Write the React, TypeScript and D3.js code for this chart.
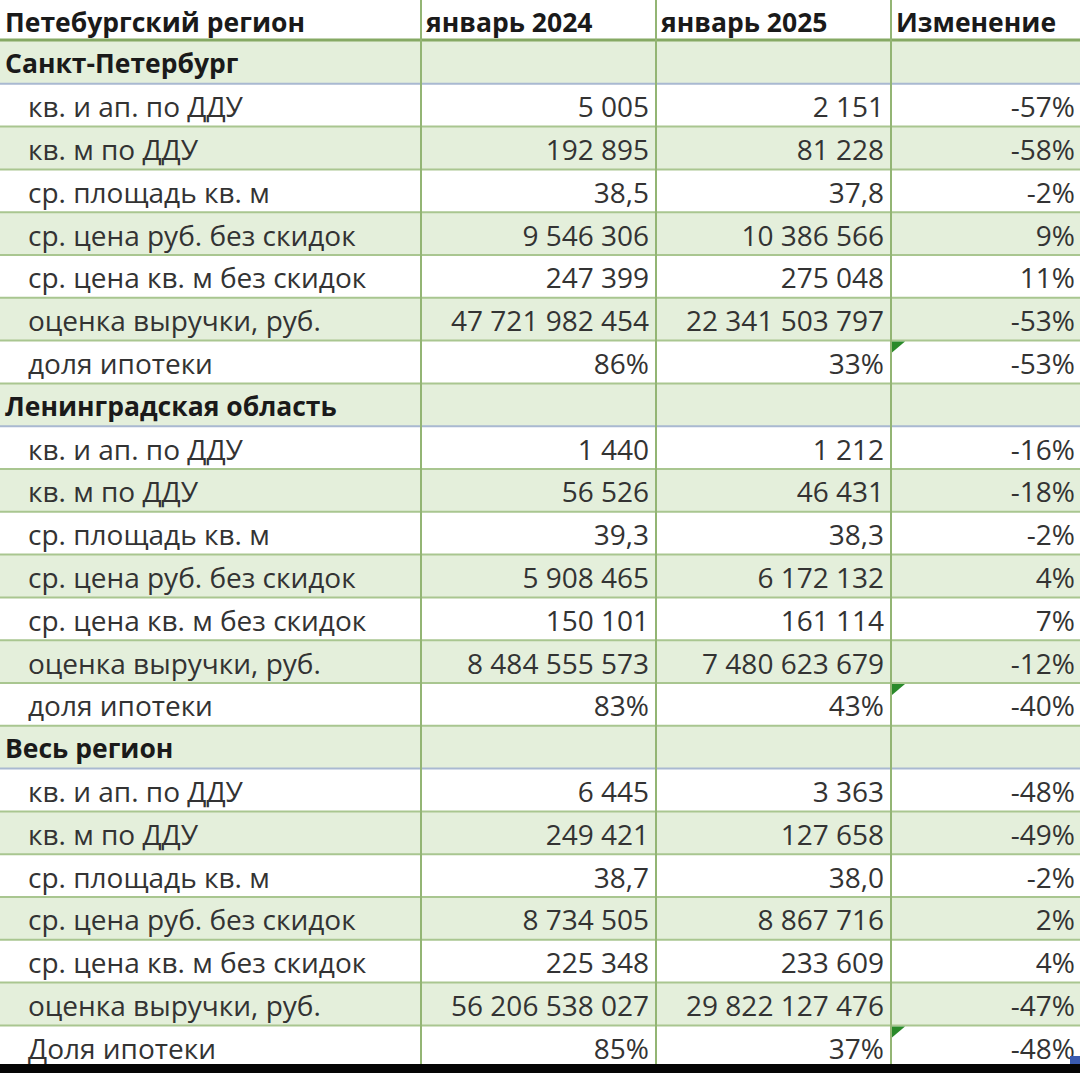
import React from "react";
import * as d3 from "d3";

const headers = ["Петебургский регион", "январь 2024", "январь 2025", "Изменение"];
const regions = ["Санкт-Петербург", "Ленинградская область", "Весь регион"];
const metrics = [
  "кв. и ап. по ДДУ",
  "кв. м по ДДУ",
  "ср. площадь кв. м",
  "ср. цена руб. без скидок",
  "ср. цена кв. м без скидок",
  "оценка выручки, руб.",
  "доля ипотеки",
];
const lastRegionMetrics = [
  "кв. и ап. по ДДУ",
  "кв. м по ДДУ",
  "ср. площадь кв. м",
  "ср. цена руб. без скидок",
  "ср. цена кв. м без скидок",
  "оценка выручки, руб.",
  "Доля ипотеки",
];
// format kind per metric: int, dec, pct
const metricKinds = ["int", "int", "dec", "int", "int", "int", "pct"];

const spb2024 = [5005, 192895, 38.5, 9546306, 247399, 47721982454, 86];
const spb2025 = [2151, 81228, 37.8, 10386566, 275048, 22341503797, 33];
const spbChange = [-57, -58, -2, 9, 11, -53, -53];

const lo2024 = [1440, 56526, 39.3, 5908465, 150101, 8484555573, 83];
const lo2025 = [1212, 46431, 38.3, 6172132, 161114, 7480623679, 43];
const loChange = [-16, -18, -2, 4, 7, -12, -40];

const all2024 = [6445, 249421, 38.7, 8734505, 225348, 56206538027, 85];
const all2025 = [3363, 127658, 38.0, 8867716, 233609, 29822127476, 37];
const allChange = [-48, -49, -2, 2, 4, -47, -48];

const values2024 = [spb2024, lo2024, all2024];
const values2025 = [spb2025, lo2025, all2025];
const changes = [spbChange, loChange, allChange];
const labelsByRegion = [metrics, metrics, lastRegionMetrics];

const locale = d3.formatLocale({
  decimal: ",",
  thousands: "\u00a0",
  grouping: [3],
  currency: ["", ""],
});
const fInt = locale.format(",d");
const fDec = locale.format(",.1f");

function fmt(v: number, kind: string) {
  if (kind === "pct") return `${v}%`;
  if (kind === "dec") return fDec(v);
  return fInt(v);
}

type Row = {
  type: "section" | "data";
  label: string;
  v1?: string;
  v2?: string;
  ch?: string;
  idx?: number;
  flag?: boolean;
};

const rows: Row[] = [];
regions.forEach((r, ri) => {
  rows.push({ type: "section", label: r });
  labelsByRegion[ri].forEach((m, mi) => {
    rows.push({
      type: "data",
      label: m,
      v1: fmt(values2024[ri][mi], metricKinds[mi]),
      v2: fmt(values2025[ri][mi], metricKinds[mi]),
      ch: `${changes[ri][mi]}%`,
      idx: mi,
      flag: metricKinds[mi] === "pct",
    });
  });
});

const W = 1080;
const H = 1073;
const headerH = 41;
const rowH = 42.8;
const colX = [0, 421, 656, 891, W];
const FONT = "'Open Sans', sans-serif";
const GREEN_FILL = "#e4efdb";
const H_LINE = "#a9c690";
const V_LINE = "#93b574";
const SECTION_LINE = "#a9b9d1";
const HEADER_LINE = "#86a964";
const TEXT = "#333333";

export default function App() {
  const y = d3
    .scaleLinear()
    .domain([0, rows.length])
    .range([headerH, headerH + rows.length * rowH]);

  return (
    <svg
      width={W}
      height={H}
      style={{ display: "block", position: "absolute", left: 0, top: 0 }}
      fontFamily={FONT}
    >
      <rect x={0} y={0} width={W} height={H} fill="#ffffff" />
      {rows.map((r, i) => {
        const green = r.type === "section" || (r.idx !== undefined && r.idx % 2 === 1);
        return green ? (
          <rect key={"bg" + i} x={0} y={y(i)} width={W} height={rowH} fill={GREEN_FILL} />
        ) : null;
      })}
      {/* horizontal lines */}
      {rows.map((r, i) => (
        <line
          key={"hl" + i}
          x1={0}
          x2={W}
          y1={y(i + 1)}
          y2={y(i + 1)}
          stroke={r.type === "section" ? SECTION_LINE : H_LINE}
          strokeWidth={2}
        />
      ))}
      <line x1={0} x2={W} y1={headerH - 1} y2={headerH - 1} stroke={HEADER_LINE} strokeWidth={3} />
      {/* vertical lines */}
      {colX.slice(1, 4).map((x, i) => (
        <line key={"vl" + i} x1={x} x2={x} y1={0} y2={H} stroke={V_LINE} strokeWidth={2} />
      ))}
      {/* header text */}
      {headers.map((h, i) => (
        <text
          key={"h" + i}
          x={colX[i] + 5}
          y={headerH / 2 + 1}
          dominantBaseline="central"
          fontSize={26.5}
          fontWeight={700}
          fill="#1a1a1a"
        >
          {h}
        </text>
      ))}
      {rows.map((r, i) => {
        const cy = y(i) + rowH / 2 + 1;
        if (r.type === "section") {
          return (
            <text
              key={"t" + i}
              x={5}
              y={cy}
              dominantBaseline="central"
              fontSize={26.5}
              fontWeight={700}
              fill="#1a1a1a"
            >
              {r.label}
            </text>
          );
        }
        return (
          <g key={"t" + i} fontSize={28} fill={TEXT}>
            <text x={28} y={cy} dominantBaseline="central">
              {r.label}
            </text>
            <text x={colX[2] - 7} y={cy} dominantBaseline="central" textAnchor="end">
              {r.v1}
            </text>
            <text x={colX[3] - 7} y={cy} dominantBaseline="central" textAnchor="end">
              {r.v2}
            </text>
            <text x={W - 5} y={cy} dominantBaseline="central" textAnchor="end">
              {r.ch}
            </text>
            {r.flag ? (
              <path
                d={`M${colX[3] + 1},${y(i) + 1} h13 l-13,11 z`}
                fill="#2a8a2a"
              />
            ) : null}
          </g>
        );
      })}
      <rect x={1070} y={1056} width={10} height={8} fill="#3a5bb0" />
      <rect x={0} y={1064} width={W} height={H - 1064} fill="#050505" />
    </svg>
  );
}
